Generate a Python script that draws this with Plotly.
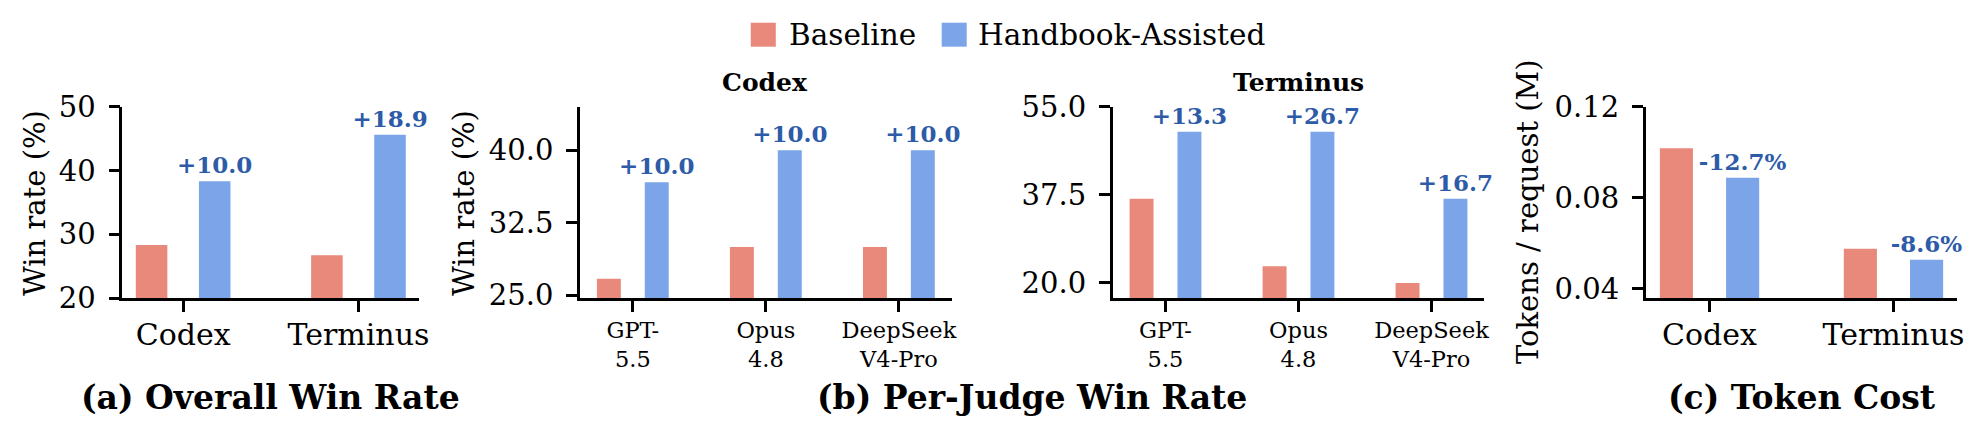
import plotly.graph_objects as go

# ---------------- data ----------------
series_names = ["Baseline", "Handbook-Assisted"]

# (a) Overall win rate
overall_cats = ["Codex", "Terminus"]
overall_baseline = [28.3, 26.7]
overall_handbook = [38.3, 45.6]
overall_labels = ["+10.0", "+18.9"]
overall_ticks = [20, 30, 40, 50]

# (b) Per-judge win rate
judges = ["GPT-5.5", "Opus 4.8", "DeepSeek V4-Pro"]
judge_ticktext = ["GPT-<br>5.5", "Opus<br>4.8", "DeepSeek<br>V4-Pro"]
codex_baseline = [26.7, 30.0, 30.0]
codex_handbook = [36.7, 40.0, 40.0]
codex_labels = ["+10.0", "+10.0", "+10.0"]
codex_ticks = [25.0, 32.5, 40.0]
terminus_baseline = [36.7, 23.3, 20.0]
terminus_handbook = [50.0, 50.0, 36.7]
terminus_labels = ["+13.3", "+26.7", "+16.7"]
terminus_ticks = [20.0, 37.5, 55.0]

# (c) Token cost
token_cats = ["Codex", "Terminus"]
token_baseline = [0.1017, 0.0576]
token_handbook = [0.0888, 0.0527]
token_labels = ["-12.7%", "-8.6%"]
token_ticks = [0.04, 0.08, 0.12]

# ---------------- style ----------------
FONT = "DejaVu Serif"
C_BASE = "#E8897B"
C_HB = "#7BA5E8"
C_TXT = "#2D5BA8"
W, H = 1985, 437

fig = go.Figure()


def add_panel(xa, ya, cats, base, hb, labels):
    fig.add_trace(go.Bar(
        x=cats, y=base, name=series_names[0], marker=dict(color=C_BASE, line=dict(width=0)),
        xaxis=xa, yaxis=ya, showlegend=False, offsetgroup="b",
    ))
    fig.add_trace(go.Bar(
        x=cats, y=hb, name=series_names[1], marker=dict(color=C_HB, line=dict(width=0)),
        xaxis=xa, yaxis=ya, showlegend=False, offsetgroup="h",
        text=labels, textposition="outside", textangle=0, constraintext="none",
        cliponaxis=False,
        textfont=dict(family=FONT, size=23, color=C_TXT, weight="bold"),
    ))


add_panel("x", "y", overall_cats, overall_baseline, overall_handbook, overall_labels)
add_panel("x2", "y2", judges, codex_baseline, codex_handbook, codex_labels)
add_panel("x3", "y3", judges, terminus_baseline, terminus_handbook, terminus_labels)
add_panel("x4", "y4", token_cats, token_baseline, token_handbook, token_labels)

ydom = [1 - 298 / H, 1 - 106.7 / H]


def xax(left, right, ncat, size, anchor, standoff, tickvals=None, ticktext=None):
    pad = 0.347 if ncat == 2 else 0.397
    d = dict(
        domain=[left / W, right / W], type="category", anchor=anchor,
        range=[-pad, ncat - 1 + pad], automargin=False,
        showline=True, linecolor="black", linewidth=2.5, mirror=False,
        ticks="outside", ticklen=11, tickwidth=2.5, tickcolor="black",
        showgrid=False, zeroline=False,
        tickfont=dict(family=FONT, size=size, color="black"),
        ticklabelstandoff=standoff,
    )
    if tickvals is not None:
        d["tickmode"] = "array"
        d["tickvals"] = tickvals
        d["ticktext"] = ticktext
    return d


def yax(rng, tickvals, fmt, anchor):
    return dict(
        domain=ydom, range=rng, anchor=anchor, automargin=False,
        tickmode="array", tickvals=tickvals, tickformat=fmt,
        showline=True, linecolor="black", linewidth=2.5, mirror=False,
        ticks="outside", ticklen=11, tickwidth=2.5, tickcolor="black",
        showgrid=False, zeroline=False,
        tickfont=dict(family=FONT, size=29, color="black"),
        ticklabelstandoff=7,
    )


fig.update_layout(
    width=W, height=H,
    margin=dict(l=0, r=0, t=0, b=0, pad=0, autoexpand=False),
    paper_bgcolor="white", plot_bgcolor="white",
    barmode="group", bargap=0.28, bargroupgap=0.5,
    showlegend=False,
    font=dict(family=FONT, size=29, color="black"),
    xaxis=xax(122.3, 419.3, 2, 30, "y", -3),
    yaxis=yax([20, 50], overall_ticks, "d", "x"),
    xaxis2=xax(580.0, 951.7, 3, 22.5, "y2", -1, judges, judge_ticktext),
    yaxis2=yax([24.72, 44.5], codex_ticks, ".1f", "x2"),
    xaxis3=xax(1112.7, 1484.3, 3, 22.5, "y3", -1, judges, judge_ticktext),
    yaxis3=yax([17.0, 55.0], terminus_ticks, ".1f", "x3"),
    xaxis4=xax(1645.7, 1957.3, 2, 30, "y4", -3),
    yaxis4=yax([0.0359, 0.12], token_ticks, ".2f", "x4"),
)


def ann(text, x, y, size, bold=False, angle=0, xanchor="center"):
    fig.add_annotation(
        text=f"<b>{text}</b>" if bold else text,
        x=x / W, y=1 - y / H, xref="paper", yref="paper",
        xanchor=xanchor, yanchor="middle", showarrow=False, textangle=angle,
        font=dict(family=FONT, size=size, color="black"),
    )


def legend_patch(color, x, y):
    # legend swatch (25 x 24 px), placed in paper coordinates
    fig.add_shape(
        type="rect", xref="paper", yref="paper",
        x0=(x - 12.5) / W, x1=(x + 12.5) / W,
        y0=1 - (y + 12) / H, y1=1 - (y - 12) / H,
        fillcolor=color, line=dict(width=0),
    )


# legend (series names)
legend_patch(C_BASE, 763.3, 34.7)
ann(series_names[0], 786.5, 34.7, 29.5, xanchor="left")
legend_patch(C_HB, 954.2, 34.7)
ann(series_names[1], 976.0, 34.7, 29.5, xanchor="left")

ann("Win rate (%)", 35, 203, 29, angle=-90)
ann("Win rate (%)", 464, 203, 29, angle=-90)
ann("Tokens / request (M)", 1528, 212, 29, angle=-90)
ann("Codex", 765, 82, 25, bold=True)
ann("Terminus", 1298, 82, 25, bold=True)
ann("(a) Overall Win Rate", 270.8, 397, 33, bold=True)
ann("(b) Per-Judge Win Rate", 1032, 397, 33, bold=True)
ann("(c) Token Cost", 1801.5, 397, 33, bold=True)

fig.write_html("out.html")
